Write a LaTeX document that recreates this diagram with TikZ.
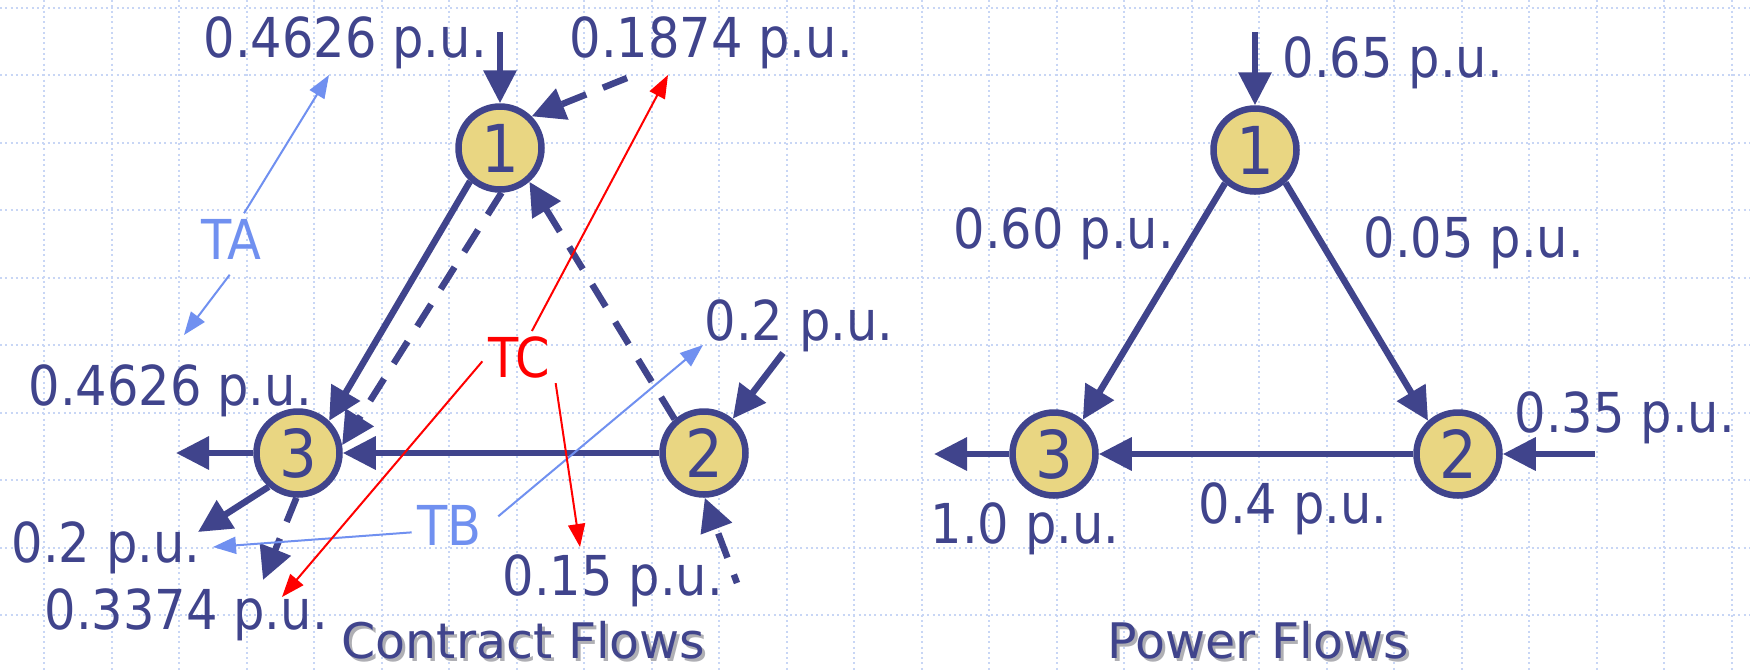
\documentclass[tikz,border=0pt]{standalone}
\usepackage{fontspec}
\setmainfont{DejaVu Sans}
\newfontfamily\lblfont{DejaVu Sans}[FakeStretch=0.9]
\usetikzlibrary{arrows.meta}
\definecolor{dblue}{RGB}{64,68,140}
\definecolor{busfill}{RGB}{233,214,130}
\definecolor{lblue}{RGB}{112,144,240}
\definecolor{gridc}{RGB}{200,214,245}
\definecolor{shadowc}{RGB}{175,175,180}
\begin{document}
\begin{tikzpicture}[x=0.1mm,y=-0.1mm,
  bus/.style={circle,draw=dblue,fill=busfill,line width=0.65mm,minimum size=8.3mm,inner sep=0pt,text=dblue,font=\lblfont\fontsize{18.8pt}{20pt}\selectfont},
  lbl/.style={anchor=base west,inner sep=0pt,text=dblue,font=\lblfont\fontsize{15.65pt}{18pt}\selectfont},
  flow/.style={draw=dblue,line width=0.65mm,-{Triangle[length=3.3mm,width=3.2mm]}},
  cflow/.style={flow,dash pattern=on 2.6mm off 1.8mm},
  tlabel/.style={font=\lblfont\fontsize{15.65pt}{18pt}\selectfont,inner sep=0.5mm},
  tarrow/.style={line width=0.2mm,-{Triangle[length=2.3mm,width=1.7mm]}},
  ttl/.style={anchor=base west,inner sep=0pt,font=\fontsize{13.94pt}{16pt}\selectfont},
  gridline/.style={draw=gridc,line width=0.2mm,dash pattern=on 0.2mm off 0.33mm}
]
\useasboundingbox (0,0) rectangle (1750,671);
\fill[white] (0,0) rectangle (1750,671);
% grid
\foreach \i in {0,...,25} \draw[gridline] ({44+67.5*\i},0) -- ({44+67.5*\i},671);
\foreach \j in {0,...,9} \draw[gridline] (0,{7.5+67.5*\j}) -- (1750,{7.5+67.5*\j});

% ---------- Contract flows ----------
\node[bus] (L1) at (500,148) {\raisebox{-0.3mm}{1}};
\node[bus] (L2) at (704,453) {\raisebox{-0.3mm}{2}};
\node[bus] (L3) at (298,453) {\raisebox{-0.3mm}{3}};

\node[lbl] (lA) at (203,57) {0.4626 p.u.};
\node[lbl] (lB) at (569,57) {0.1874 p.u.};
\node[lbl] (lC) at (28,405) {0.4626 p.u.};
\node[lbl] (lD) at (704,340) {0.2 p.u.};
\node[lbl] (lE) at (11,562) {0.2 p.u.};
\node[lbl] (lF) at (44,629) {0.3374 p.u.};
\node[lbl] (lG) at (502,595) {0.15 p.u.};

\node[tlabel,text=lblue] (TA) at (231.5,239) {TA};
\node[tlabel,text=lblue] (TB) at (449.5,525) {TB};
\node[tlabel,text=red] (TC) at (519,357.5) {TC};

\coordinate (c1) at (500,32);
\coordinate (c2) at (627,78);
\coordinate (c3) at (176,453);
\coordinate (c4) at (198,532);
\coordinate (c5) at (263,580);
\coordinate (c6) at (783,353);
\coordinate (c7) at (737,583);

\draw[flow] (c1) -- (L1.90);
\draw[cflow] (c2) -- (L1.45);
\draw[flow] (L1.-132) -- (L3.46);
\draw[cflow] (L1.-88) -- (L3.10);
\draw[cflow] (L2.131.5) -- (L1.-49.4);
\draw[flow] (L2.180) -- (L3.0);
\draw[flow] (L3.180) -- (c3);
\draw[flow] (L3.-131) -- (c4);
\draw[cflow] (L3.-92) -- (c5);
\draw[flow] (c6) -- (L2.50);
\draw[cflow,dash phase=1.7mm] (c7) -- (L2.-89);

\coordinate (a1) at (329,75);
\coordinate (a2) at (184,335);
\coordinate (b1) at (213,547);
\coordinate (b2) at (703,345);
\coordinate (r1) at (668,75);
\coordinate (r2) at (282,597);
\coordinate (r3) at (580,547);

\draw[tarrow,lblue] (TA.64) -- (a1);
\draw[tarrow,lblue] ([yshift=-1mm]TA.-94) -- (a2);
\draw[tarrow,lblue] (TB.191) -- (b1);
\draw[tarrow,lblue] ([xshift=1.1mm]TB.13) -- (b2);
\draw[tarrow,red] (TC.64) -- (r1);
\draw[tarrow,red] (TC.186) -- (r2);
\draw[tarrow,red] (TC.-35) -- (r3);

\node[ttl,text=shadowc] (t1s) at (344,661) {Contract Flows};
\node[ttl,text=dblue] (t1) at (341,658) {Contract Flows};

% ---------- Power flows ----------
\node[bus] (R1) at (1255,150) {\raisebox{-0.3mm}{1}};
\node[bus] (R2) at (1458,454) {\raisebox{-0.3mm}{2}};
\node[bus] (R3) at (1054,454) {\raisebox{-0.3mm}{3}};

\node[lbl] (rA) at (1282,77) {0.65 p.u.};
\node[lbl] (rB) at (953,248) {0.60 p.u.};
\node[lbl] (rC) at (1363,257) {0.05 p.u.};
\node[lbl] (rD) at (1514,432) {0.35 p.u.};
\node[lbl] (rE) at (930,543) {1.0 p.u.};
\node[lbl] (rF) at (1198,523) {0.4 p.u.};

\coordinate (c8) at (1255,32);
\coordinate (c9) at (934,454);
\coordinate (c10) at (1595,454);

\draw[flow] (c8) -- (R1.90);
\draw[flow] (R1.-132) -- (R3.50);
\draw[flow] (R1.-47) -- (R2.132);
\draw[flow] (R2.180) -- (R3.0);
\draw[flow] (R3.180) -- (c9);
\draw[flow] (c10) -- (R2.0);

\node[ttl,text=shadowc] (t2s) at (1110,661) {Power Flows};
\node[ttl,text=dblue] (t2) at (1107,658) {Power Flows};
\end{tikzpicture}
\end{document}
